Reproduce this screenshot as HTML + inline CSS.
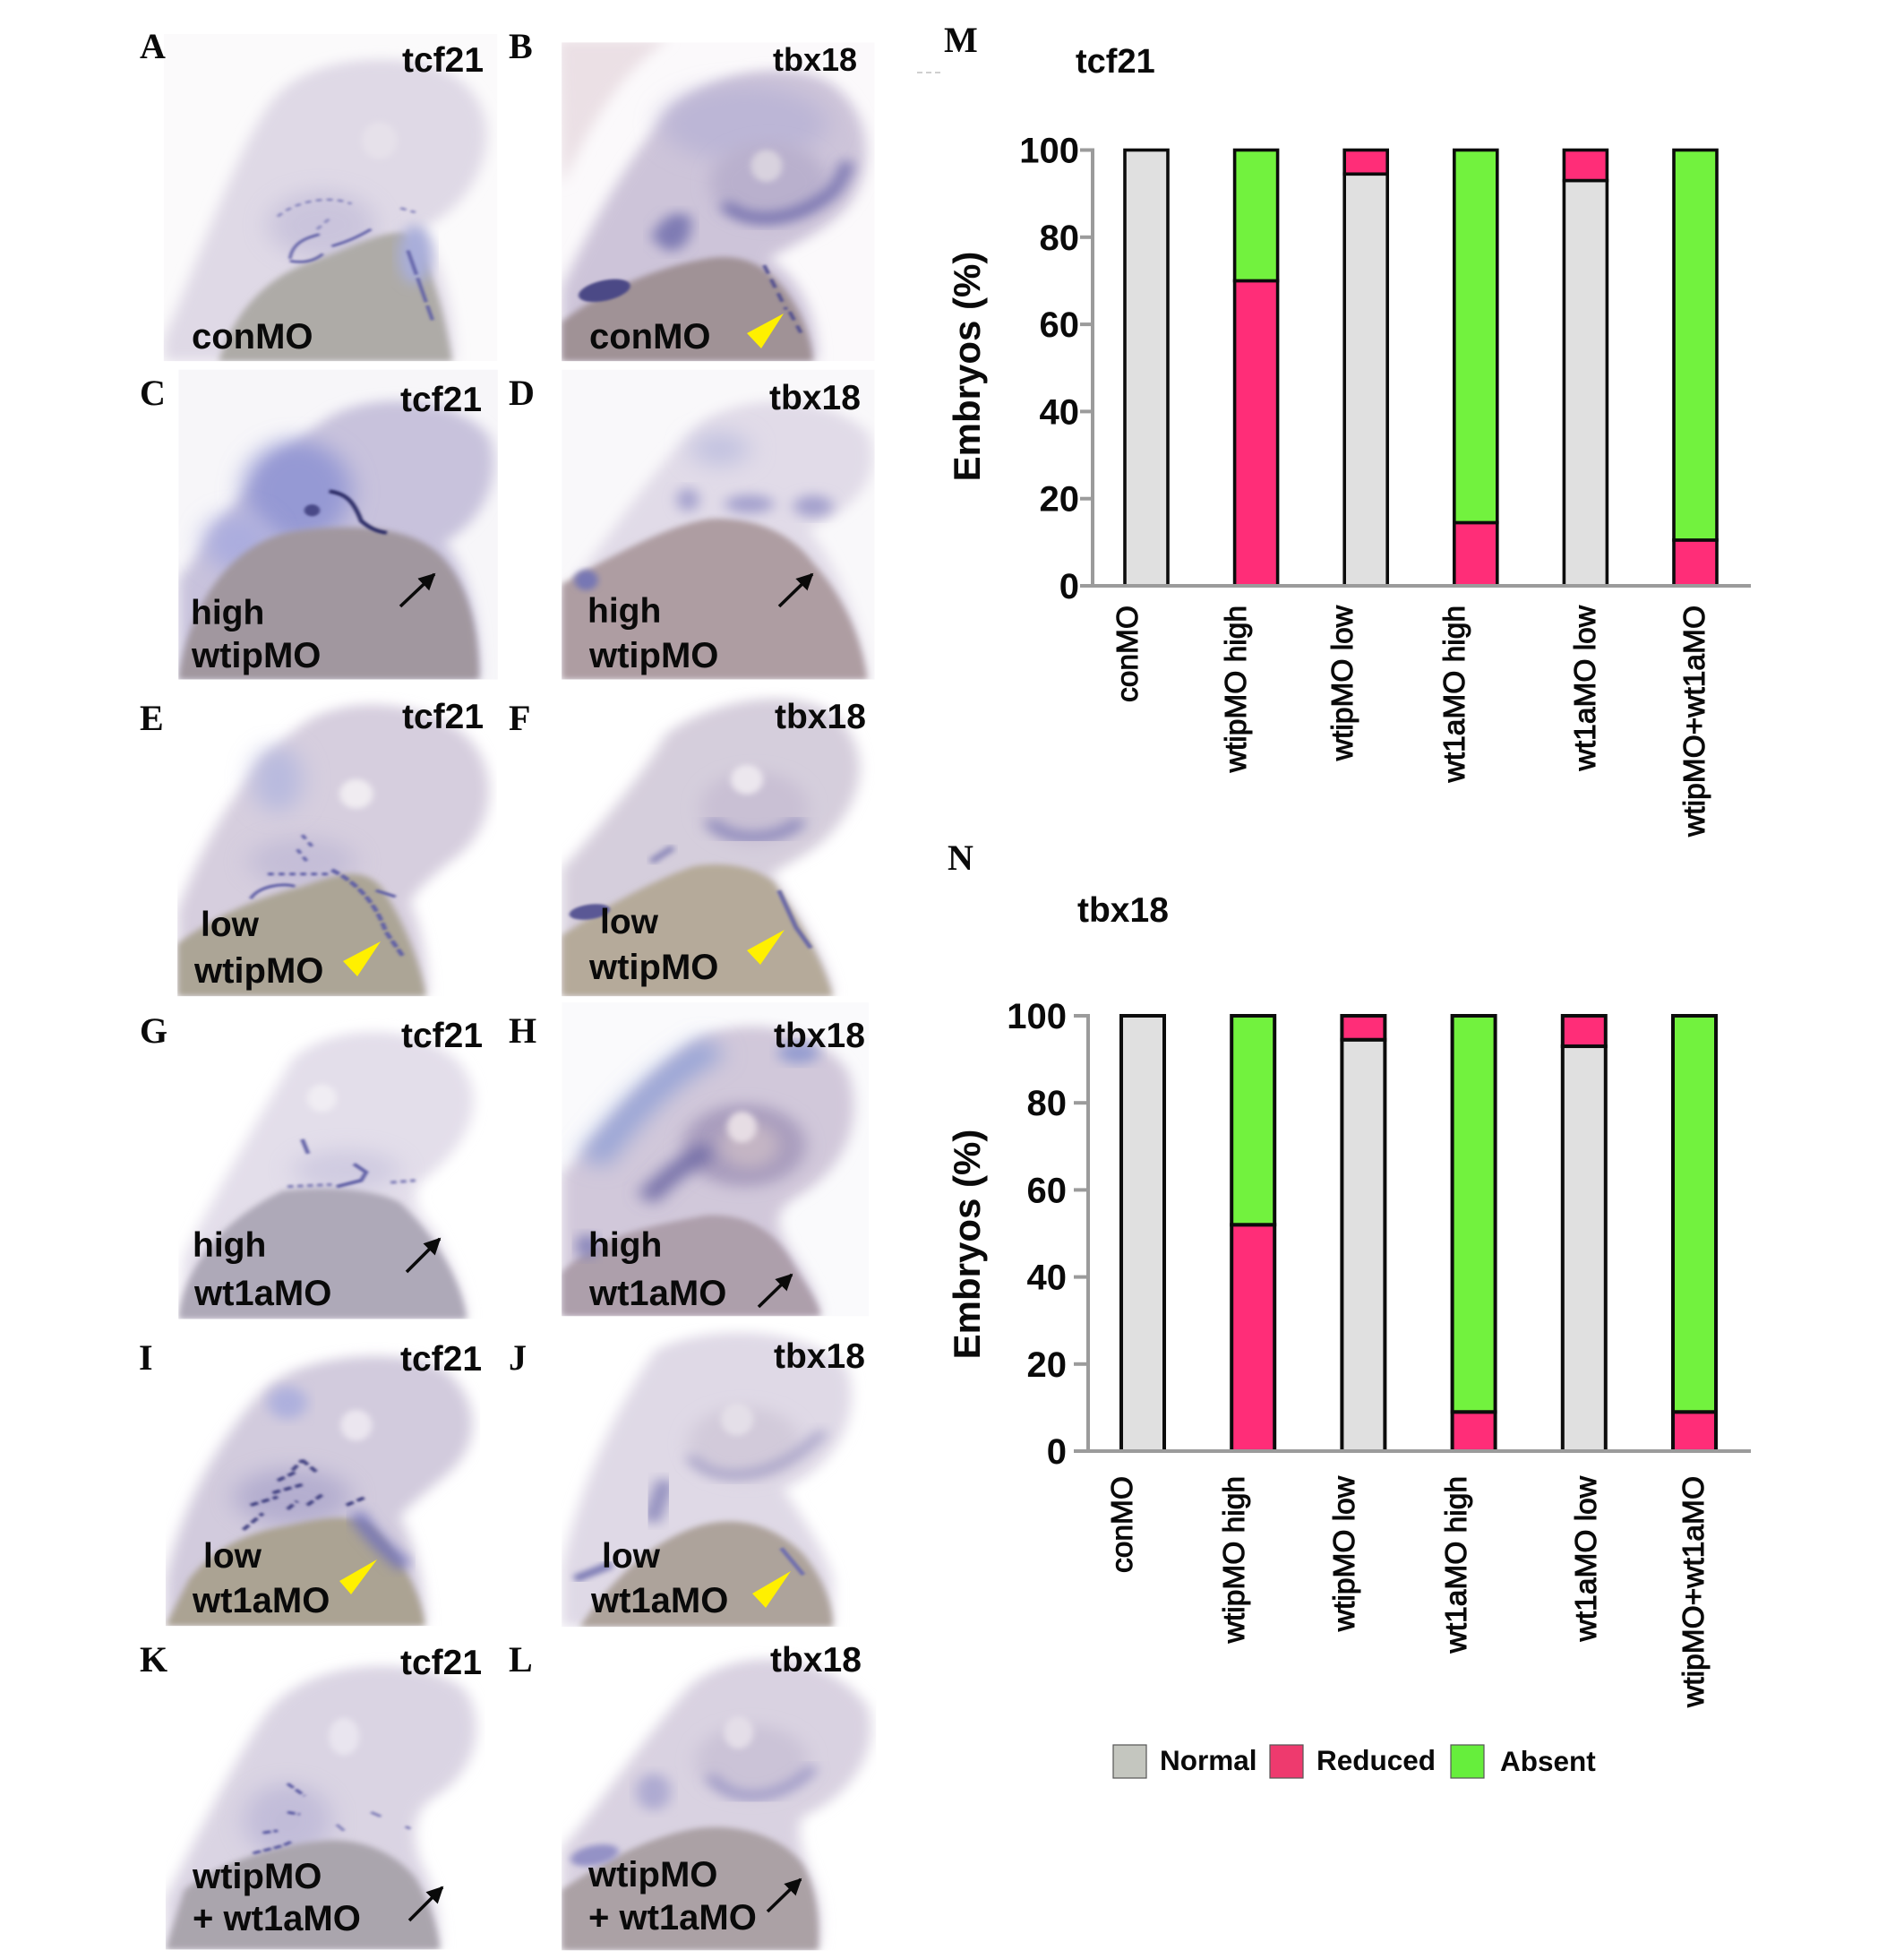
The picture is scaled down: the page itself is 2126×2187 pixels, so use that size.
<!DOCTYPE html>
<html lang="en">
<head>
<meta charset="utf-8">
<title>tcf21 and tbx18 expression in morphant embryos</title>
<style>
html,body{margin:0;padding:0;background:#fff;width:2126px;height:2187px;overflow:hidden}
svg{display:block}
.lab{font:bold 39px "Liberation Sans",sans-serif;fill:#0a0a0a}
.tr{font-size:40px}
.let{font:bold 40px "Liberation Serif",serif;fill:#0a0a0a}
</style>
</head>
<body>
<svg id="fig" xmlns="http://www.w3.org/2000/svg" width="2126" height="2187" viewBox="0 0 2126 2187">
<defs>
<filter id="b4" x="-40%" y="-40%" width="180%" height="180%"><feGaussianBlur stdDeviation="3"/></filter>
<filter id="b7" x="-20%" y="-20%" width="140%" height="140%"><feGaussianBlur stdDeviation="7"/></filter>
<filter id="b14" x="-20%" y="-20%" width="140%" height="140%"><feGaussianBlur stdDeviation="14"/></filter>
<filter id="b18" x="-40%" y="-40%" width="180%" height="180%"><feGaussianBlur stdDeviation="18"/></filter>
<filter id="b25" x="-60%" y="-60%" width="220%" height="220%"><feGaussianBlur stdDeviation="25"/></filter>
<clipPath id="cA"><rect x="78" y="38" width="679" height="774"/></clipPath>
<clipPath id="cB"><rect x="888" y="58" width="637" height="754"/></clipPath>
<clipPath id="cC"><rect x="108" y="832" width="650" height="733"/></clipPath>
<clipPath id="cD"><rect x="888" y="832" width="637" height="733"/></clipPath>
<clipPath id="cE"><rect x="106" y="15" width="650" height="752"/></clipPath>
<clipPath id="cF"><rect x="888" y="15" width="637" height="752"/></clipPath>
<clipPath id="cG"><rect x="108" y="785" width="630" height="767"/></clipPath>
<clipPath id="cH"><rect x="888" y="782" width="625" height="763"/></clipPath>
<clipPath id="cI"><rect x="82" y="20" width="640" height="735"/></clipPath>
<clipPath id="cJ"><rect x="888" y="15" width="620" height="742"/></clipPath>
<clipPath id="cK"><rect x="82" y="790" width="650" height="755"/></clipPath>
<clipPath id="cL"><rect x="888" y="785" width="640" height="762"/></clipPath>
</defs>
<rect width="2126" height="2187" fill="#fff"/>

<!-- Row 1-2 : zoom coordinates -->
<g transform="translate(140,20) scale(.5486,.4719)">
  <g clip-path="url(#cA)">
    <rect x="78" y="38" width="679" height="774" fill="#fbfafb"/>
    <path filter="url(#b14)" fill="#dfd9e6" d="M78 812L78 760C140 600 220 330 290 210C340 120 450 90 560 100C680 110 740 190 735 290C725 400 660 470 600 500C640 560 670 700 670 812Z"/>
    <ellipse cx="400" cy="490" rx="110" ry="80" fill="#b9b4d4" opacity=".55" filter="url(#b25)"/>
    <path filter="url(#b7)" fill="#aeaba7" d="M190 812C220 700 280 620 370 580C450 550 520 500 570 510C620 560 650 700 665 812Z"/>
    <ellipse cx="517" cy="290" rx="36" ry="44" fill="#e6e1ea" filter="url(#b7)"/>
    <ellipse cx="590" cy="560" rx="34" ry="70" fill="#a9aeda" filter="url(#b14)"/>
    <g fill="none" stroke="#5f5ea6" stroke-width="6" filter="url(#b4)">
      <path d="M335 575C370 582 390 570 402 558M335 570C340 530 370 520 395 512M420 540C450 530 470 520 500 500"/>
      <path d="M575 550L625 715" stroke-width="7" stroke-dasharray="60 8"/>
      <path d="M310 470C350 430 420 420 460 440M390 500L420 470M560 450L590 460" stroke-dasharray="12 10" stroke="#8a88bd"/>
    </g>
  </g>
  <g clip-path="url(#cB)">
    <rect x="888" y="58" width="637" height="754" fill="#fbf9fb"/>
    <path filter="url(#b14)" fill="#ebe0e5" d="M880 50H1105C1010 130 950 240 888 400Z"/>
    <path filter="url(#b14)" fill="#cdc4d9" d="M888 640C950 480 1040 300 1110 220C1200 120 1350 100 1430 150C1510 210 1530 330 1480 430C1440 500 1350 540 1310 570C1380 620 1410 720 1408 812L888 812Z"/>
    <ellipse cx="1260" cy="250" rx="170" ry="90" fill="#bcb6d6" filter="url(#b25)"/>
    <ellipse cx="1310" cy="390" rx="120" ry="95" fill="#b9b0cd" filter="url(#b18)"/>
    <path d="M1220 440C1260 490 1360 490 1440 410C1460 380 1465 360 1470 340" fill="none" stroke="#6e6bab" stroke-width="24" filter="url(#b14)"/>
    <ellipse cx="1305" cy="350" rx="32" ry="38" fill="#d8d2de" filter="url(#b7)"/>
    <path filter="url(#b14)" fill="#7f7cb4" d="M1070 520C1090 470 1120 450 1150 470C1160 520 1130 560 1100 550Z"/>
    <path filter="url(#b7)" fill="#a09296" d="M888 812L888 720C960 650 1080 590 1180 570C1250 555 1300 580 1340 640C1380 700 1395 760 1400 812Z"/>
    <ellipse cx="975" cy="645" rx="54" ry="24" transform="rotate(-15 975 645)" fill="#4b4986" filter="url(#b4)"/>
    <path d="M1300 585L1345 690M1352 695L1375 745" stroke="#4d4c90" stroke-width="7" fill="none" stroke-dasharray="22 14" filter="url(#b4)"/>
  </g>
  <g clip-path="url(#cC)">
    <rect x="108" y="832" width="650" height="733" fill="#f7f6f9"/>
    <path filter="url(#b14)" fill="#c8c2dc" d="M108 1330C200 1180 300 1030 420 940C520 880 680 900 740 990C770 1080 730 1190 650 1240C700 1320 720 1430 720 1565L108 1565Z"/>
    <ellipse cx="350" cy="1120" rx="110" ry="120" fill="#9599d4" filter="url(#b25)"/>
    <ellipse cx="230" cy="1240" rx="70" ry="70" fill="#acadde" filter="url(#b25)"/>
    <path filter="url(#b7)" fill="#a1979f" d="M108 1565C130 1380 220 1240 340 1215C450 1195 580 1200 640 1270C700 1340 720 1450 720 1565Z"/>
    <path d="M415 1120C450 1125 465 1145 480 1190C495 1205 510 1215 532 1218" stroke="#2f2f68" stroke-width="9" fill="none" filter="url(#b4)"/>
    <ellipse cx="380" cy="1165" rx="16" ry="14" fill="#4a4a88" filter="url(#b4)"/>
  </g>
  <g clip-path="url(#cD)">
    <rect x="888" y="832" width="637" height="733" fill="#f9f8fa"/>
    <path filter="url(#b14)" fill="#e1dbe8" d="M888 1370C980 1240 1080 1050 1180 950C1280 880 1440 900 1510 980C1540 1060 1510 1150 1390 1210C1450 1300 1500 1440 1510 1565L888 1565Z"/>
    <ellipse cx="1210" cy="1020" rx="60" ry="40" fill="#c2c2e0" filter="url(#b25)"/>
    <path filter="url(#b7)" fill="#ae9da2" d="M888 1565L888 1340C980 1280 1100 1200 1190 1185C1270 1180 1350 1210 1400 1290C1470 1380 1500 1480 1510 1565Z"/>
    <ellipse cx="938" cy="1330" rx="24" ry="24" fill="#7777b4" filter="url(#b7)"/>
    <g filter="url(#b14)" fill="#a4a1cd"><ellipse cx="1145" cy="1140" rx="22" ry="28"/><ellipse cx="1270" cy="1150" rx="50" ry="22"/><ellipse cx="1400" cy="1155" rx="40" ry="26"/></g>
  </g>
</g>

<!-- Row 3-4 -->
<g transform="translate(140,760) scale(.5486,.4591)">
  <g clip-path="url(#cE)">
    <path filter="url(#b14)" fill="#d6cede" d="M106 767L106 560C170 350 270 170 380 90C480 30 620 60 690 130C770 220 750 370 660 440C620 480 590 510 580 540C600 600 615 680 615 767Z"/>
    <ellipse cx="310" cy="240" rx="50" ry="80" fill="#b8bade" filter="url(#b25)"/>
    <ellipse cx="360" cy="440" rx="110" ry="60" fill="#b3aed0" opacity=".5" filter="url(#b25)"/>
    <path filter="url(#b7)" fill="#aca596" d="M106 767L106 640C170 580 260 530 360 500C430 470 480 450 520 500C560 570 600 680 612 767Z"/>
    <ellipse cx="470" cy="275" rx="34" ry="36" fill="#f0ecf1" filter="url(#b7)"/>
    <g fill="none" stroke="#5f5ea6" stroke-width="7" filter="url(#b4)">
      <path d="M255 530C270 500 320 490 345 500" />
      <path d="M360 375L385 410M350 410L370 440M290 470L420 470" stroke-dasharray="12 10"/>
      <path d="M420 460C470 490 510 540 530 610L565 670" stroke-dasharray="18 6" stroke-width="9"/>
      <path d="M510 510L550 525" />
    </g>
  </g>
  <g clip-path="url(#cF)">
    <path filter="url(#b14)" fill="#d5ceDC" d="M888 767L888 460C960 360 1060 220 1100 130C1200 40 1370 10 1450 90C1530 190 1490 310 1420 390C1380 430 1340 450 1315 470C1370 570 1430 680 1440 767Z"/>
    <ellipse cx="1280" cy="310" rx="110" ry="90" fill="#c9c0d4" filter="url(#b18)"/>
    <path d="M1190 340C1220 390 1320 400 1375 340" fill="none" stroke="#8d89bc" stroke-width="26" filter="url(#b14)"/>
    <path d="M1070 440L1115 405" fill="none" stroke="#8582b6" stroke-width="14" filter="url(#b7)"/>
    <path filter="url(#b7)" fill="#b5aa9a" d="M888 767L888 620C960 560 1080 480 1160 450C1220 440 1280 450 1320 490C1370 580 1420 680 1440 767Z"/>
    <ellipse cx="1265" cy="240" rx="33" ry="36" fill="#ece7ee" filter="url(#b7)"/>
    <ellipse cx="945" cy="562" rx="42" ry="18" fill="#5a5895" transform="rotate(-10 945 562)" filter="url(#b4)"/>
    <path d="M1330 510L1365 600L1395 650" stroke="#6866a6" stroke-width="9" fill="none" filter="url(#b4)"/>
  </g>
  <g clip-path="url(#cG)">
    <path filter="url(#b14)" fill="#e3deea" d="M108 1552L120 1400C180 1250 280 1050 340 920C420 830 600 830 680 930C740 1020 700 1130 600 1220C580 1250 590 1290 630 1340C670 1430 690 1490 695 1552Z"/>
    <ellipse cx="450" cy="1190" rx="110" ry="50" fill="#bdb9d8" opacity=".5" filter="url(#b25)"/>
    <path filter="url(#b7)" fill="#aea9b8" d="M108 1552C120 1420 200 1310 320 1240C420 1225 520 1240 560 1270C620 1340 680 1440 695 1552Z"/>
    <ellipse cx="400" cy="1015" rx="30" ry="34" fill="#f0edf3" filter="url(#b7)"/>
    <g fill="none" stroke="#5f5fa5" stroke-width="8" filter="url(#b4)">
      <path d="M360 1115L372 1150M465 1175L490 1195L480 1215L430 1230" />
      <path d="M330 1230L420 1225M540 1220L590 1215" stroke-dasharray="12 8" stroke="#8886bb"/>
    </g>
  </g>
  <g clip-path="url(#cH)">
    <rect x="888" y="782" width="625" height="763" fill="#fafafc"/>
    <path filter="url(#b14)" fill="#d1c8da" d="M888 1545L888 1200C980 1090 1060 950 1180 860C1300 810 1420 860 1470 950C1500 1050 1480 1180 1360 1260C1310 1300 1330 1340 1360 1400C1400 1470 1410 1510 1415 1545Z"/>
    <path d="M950 1170C1020 1060 1090 960 1200 890" fill="none" stroke="#95a3d6" stroke-width="60" filter="url(#b25)"/>
    <ellipse cx="1370" cy="905" rx="42" ry="26" fill="#959dd0" filter="url(#b14)"/>
    <ellipse cx="1260" cy="1130" rx="125" ry="100" fill="#a89cbd" filter="url(#b18)"/>
    <path d="M1060 1260C1100 1210 1140 1170 1190 1140" fill="none" stroke="#716ca6" stroke-width="40" filter="url(#b18)"/>
    <ellipse cx="1270" cy="1130" rx="60" ry="55" fill="#c4b5c4" filter="url(#b18)"/>
    <ellipse cx="1255" cy="1085" rx="30" ry="38" fill="#e6dde4" filter="url(#b7)"/>
    <path filter="url(#b7)" fill="#ad9fab" d="M888 1545L888 1440C960 1350 1050 1330 1180 1300C1260 1295 1320 1330 1360 1420C1390 1480 1410 1510 1415 1545Z"/>
    <ellipse cx="940" cy="1375" rx="22" ry="30" fill="#8885ba" filter="url(#b14)"/>
  </g>
</g>

<!-- Row 5-6 -->
<g transform="translate(140,1470) scale(.5486,.4572)">
  <g clip-path="url(#cI)">
    <path filter="url(#b14)" fill="#d2cbdd" d="M82 755L82 640C110 480 180 310 280 180C350 90 560 70 650 130C720 200 730 310 650 390C600 440 570 470 560 490C590 560 610 660 610 755Z"/>
    <ellipse cx="330" cy="210" rx="40" ry="40" fill="#aeb0dd" filter="url(#b14)"/>
    <ellipse cx="340" cy="440" rx="120" ry="70" fill="#9c97c4" opacity=".55" filter="url(#b25)"/>
    <path filter="url(#b7)" fill="#aba393" d="M82 755L130 640C170 580 230 530 330 510C400 490 460 480 500 510C550 570 600 660 610 755Z"/>
    <ellipse cx="470" cy="265" rx="32" ry="38" fill="#ebe6ef" filter="url(#b7)"/>
    <path d="M470 480C490 520 520 560 570 610" fill="none" stroke="#7575ba" stroke-width="30" filter="url(#b14)"/>
    <g fill="none" stroke="#404080" stroke-width="8" filter="url(#b4)">
      <path d="M240 520L280 480M255 460L310 440M300 430L360 410M330 470L350 450M340 375L360 350M360 350L390 380M370 460L400 435M450 460L490 440M310 400L345 380" stroke-dasharray="16 8"/>
    </g>
  </g>
  <g clip-path="url(#cJ)">
    <path filter="url(#b14)" fill="#dfd9e6" d="M888 757L888 620C920 420 1000 220 1080 80C1200 10 1400 30 1470 130C1500 250 1440 370 1340 420C1370 480 1420 560 1440 640L1440 757Z"/>
    <ellipse cx="1260" cy="310" rx="115" ry="90" fill="#d2cada" filter="url(#b18)"/>
    <path d="M1150 340C1190 410 1320 410 1420 280" fill="none" stroke="#a29dc5" stroke-width="20" filter="url(#b14)"/>
    <ellipse cx="1245" cy="250" rx="33" ry="40" fill="#e4dfe8" filter="url(#b7)"/>
    <path d="M1070 500L1100 400" fill="none" stroke="#8d8abc" stroke-width="34" filter="url(#b14)"/>
    <path filter="url(#b7)" fill="#ada39b" d="M925 757C980 660 1060 550 1170 510C1260 480 1330 520 1380 580C1420 640 1440 700 1440 757Z"/>
    <path d="M915 640L990 605" fill="none" stroke="#7a79b4" stroke-width="18" filter="url(#b7)"/>
    <path d="M1335 565L1380 630" fill="none" stroke="#6f6eae" stroke-width="9" filter="url(#b4)"/>
  </g>
  <g clip-path="url(#cK)">
    <path filter="url(#b14)" fill="#dad4e3" d="M82 1545L82 1420C130 1310 200 1130 280 980C360 830 600 820 690 910C740 1000 710 1120 620 1180C590 1210 580 1260 600 1330C630 1400 640 1470 640 1545Z"/>
    <ellipse cx="330" cy="1230" rx="90" ry="90" fill="#aaa6cf" opacity=".5" filter="url(#b25)"/>
    <path filter="url(#b7)" fill="#aaa5ad" d="M82 1545L120 1400C180 1340 300 1290 400 1280C480 1270 550 1310 590 1370C620 1430 635 1490 640 1545Z"/>
    <ellipse cx="445" cy="1025" rx="31" ry="46" fill="#e9e5ef" filter="url(#b7)"/>
    <g fill="none" stroke="#5a5aa2" stroke-width="7" filter="url(#b4)">
      <path d="M260 1310C290 1300 320 1295 340 1280M280 1260L310 1255M330 1140L365 1170M330 1210L355 1215" stroke-dasharray="16 6"/>
      <path d="M500 1210L520 1220M430 1240L445 1255M570 1245L580 1250" stroke="#8886bb"/>
    </g>
  </g>
  <g clip-path="url(#cL)">
    <path filter="url(#b14)" fill="#d9d2e1" d="M888 1547L888 1300C960 1200 1060 1020 1150 900C1260 790 1440 830 1510 950C1540 1050 1480 1170 1380 1220C1360 1260 1380 1310 1400 1380C1420 1450 1415 1500 1410 1547Z"/>
    <ellipse cx="1275" cy="1085" rx="115" ry="88" fill="#cbc3d7" filter="url(#b18)"/>
    <path d="M1190 1120C1230 1190 1330 1190 1400 1100" fill="none" stroke="#9591c3" stroke-width="20" filter="url(#b14)"/>
    <ellipse cx="1075" cy="1160" rx="35" ry="45" fill="#aeaad1" filter="url(#b14)"/>
    <ellipse cx="1248" cy="1015" rx="30" ry="40" fill="#e4dee8" filter="url(#b7)"/>
    <path filter="url(#b7)" fill="#aba1a5" d="M888 1547L888 1400C960 1340 1060 1270 1160 1250C1250 1235 1340 1270 1380 1340C1410 1410 1412 1480 1410 1547Z"/>
    <ellipse cx="955" cy="1315" rx="50" ry="24" fill="#9492c6" transform="rotate(-15 955 1315)" filter="url(#b7)"/>
  </g>
</g>

<!-- Yellow arrowheads (real px) -->
<g fill="#fff000">
  <polygon points="875,350 834,372 850,389"/>
  <polygon points="425,1051 383,1073 399,1090"/>
  <polygon points="876,1038 834,1061 849,1077"/>
  <polygon points="421,1741 379,1765 392,1780"/>
  <polygon points="883,1754 840,1779 855,1795"/>
</g>

<!-- Black arrows -->
<defs>
  <marker id="ah" viewBox="0 0 10 10" refX="9" refY="5" markerWidth="5.2" markerHeight="5.2" orient="auto"><path d="M0 0L10 5L0 10Z" fill="#0a0a0a"/></marker>
</defs>
<g stroke="#0a0a0a" stroke-width="3.6" marker-end="url(#ah)">
  <line x1="447" y1="677" x2="485" y2="641" marker-end="url(#ah)"/>
  <line x1="870" y1="677" x2="907" y2="641" marker-end="url(#ah)"/>
  <line x1="454" y1="1420" x2="491" y2="1383" marker-end="url(#ah)"/>
  <line x1="847" y1="1459" x2="884" y2="1423" marker-end="url(#ah)"/>
  <line x1="457" y1="2144" x2="494" y2="2107" marker-end="url(#ah)"/>
  <line x1="857" y1="2134" x2="894" y2="2098" marker-end="url(#ah)"/>
</g>

<!-- Panel letters -->
<g class="let">
  <text class="let" x="156" y="65">A</text>
  <text class="let" x="568" y="65">B</text>
  <text class="let" x="156" y="452">C</text>
  <text class="let" x="568" y="452">D</text>
  <text class="let" x="156" y="815">E</text>
  <text class="let" x="568" y="815">F</text>
  <text class="let" x="156" y="1164">G</text>
  <text class="let" x="568" y="1164">H</text>
  <text class="let" x="155" y="1529">I</text>
  <text class="let" x="568" y="1529">J</text>
  <text class="let" x="156" y="1866">K</text>
  <text class="let" x="568" y="1866">L</text>
  <text class="let" x="1054" y="58">M</text>
  <text class="let" x="1058" y="971">N</text>
</g>

<!-- Panel labels -->
<g>
  <text class="lab" x="449" y="80">tcf21</text>
  <text class="lab tr" x="214" y="389">conMO</text>
  <text class="lab" style="font-size:36px" x="863" y="79">tbx18</text>
  <text class="lab tr" x="658" y="389">conMO</text>
  <text class="lab" x="447" y="459">tcf21</text>
  <text class="lab" x="213" y="697">high</text>
  <text class="lab tr" x="214" y="745">wtipMO</text>
  <text class="lab" x="859" y="457">tbx18</text>
  <text class="lab" x="656" y="695">high</text>
  <text class="lab tr" x="658" y="745">wtipMO</text>
  <text class="lab" x="449" y="813">tcf21</text>
  <text class="lab" x="224" y="1045">low</text>
  <text class="lab tr" x="217" y="1097">wtipMO</text>
  <text class="lab" x="865" y="813">tbx18</text>
  <text class="lab" x="670" y="1042">low</text>
  <text class="lab tr" x="658" y="1093">wtipMO</text>
  <text class="lab" x="448" y="1169">tcf21</text>
  <text class="lab" x="215" y="1403">high</text>
  <text class="lab tr" x="217" y="1457">wt1aMO</text>
  <text class="lab" x="864" y="1169">tbx18</text>
  <text class="lab" x="657" y="1403">high</text>
  <text class="lab tr" x="658" y="1457">wt1aMO</text>
  <text class="lab" x="447" y="1530">tcf21</text>
  <text class="lab" x="227" y="1750">low</text>
  <text class="lab tr" x="215" y="1800">wt1aMO</text>
  <text class="lab" x="864" y="1527">tbx18</text>
  <text class="lab" x="672" y="1750">low</text>
  <text class="lab tr" x="660" y="1800">wt1aMO</text>
  <text class="lab" x="447" y="1869">tcf21</text>
  <text class="lab tr" x="215" y="2108">wtipMO</text>
  <text class="lab tr" x="215" y="2155">+ wt1aMO</text>
  <text class="lab" x="860" y="1866">tbx18</text>
  <text class="lab tr" x="657" y="2106">wtipMO</text>
  <text class="lab tr" x="657" y="2154">+ wt1aMO</text>
</g>

<line x1="1024" y1="81" x2="1052" y2="81" stroke="#cfcfcf" stroke-width="2" stroke-dasharray="6 4"/>

<text class="lab" x="1201" y="81" style="font-size:38px">tcf21</text>
<text class="lab" x="1203" y="1029" style="font-size:39px">tbx18</text>

<g id="chart-m"></g>
<g id="chart-n"></g>

<g>
  <rect x="1243" y="1948" width="37" height="37" fill="#c4c6bf" stroke="#555" stroke-width="1.2"/>
  <text class="lab" x="1295" y="1976" style="font-size:31.5px">Normal</text>
  <rect x="1418" y="1948" width="37" height="37" fill="#ee3a6e" stroke="#555" stroke-width="1.2"/>
  <text class="lab" x="1470" y="1976" style="font-size:31.5px">Reduced</text>
  <rect x="1620" y="1948" width="37" height="37" fill="#66ee3c" stroke="#555" stroke-width="1.2"/>
  <text class="lab" x="1675" y="1977" style="font-size:31.5px">Absent</text>
</g>
</svg>

<script>
const categories = ["conMO", "wtipMO high", "wtipMO low", "wt1aMO high", "wt1aMO low", "wtipMO+wt1aMO"];
const yTickLabels = [0, 20, 40, 60, 80, 100];
const seriesNames = ["Normal", "Reduced", "Absent"];
const tcf21Normal = [100, 0, 94.5, 0, 93, 0];
const tcf21Reduced = [0, 70, 5.5, 14.5, 7, 10.5];
const tcf21Absent = [0, 30, 0, 85.5, 0, 89.5];
const tbx18Normal = [100, 0, 94.5, 0, 93, 0];
const tbx18Reduced = [0, 52, 5.5, 9, 7, 9];
const tbx18Absent = [0, 48, 0, 91, 0, 91];
const seriesColors = ["#e0e0e0", "#ff2d78", "#72f23e"];

const SVGNS = "http://www.w3.org/2000/svg";
function mk(parent, tag, attrs, text) {
  const e = document.createElementNS(SVGNS, tag);
  for (const k in attrs) e.setAttribute(k, attrs[k]);
  if (text !== undefined) e.textContent = text;
  parent.appendChild(e);
  return e;
}
function drawChart(id, series, L) {
  const g = document.getElementById(id);
  const y = v => L.y0 + (L.y100 - L.y0) * v / 100;
  const x = i => L.x0 + L.step * i;

  series.forEach((vals, s) => {
    categories.forEach((cat, i) => {
      let base = 0;
      for (let k = 0; k < s; k++) base += series[k][i];
      const v = vals[i];
      if (v <= 0) return;
      const r = mk(g, "rect", {
        x: x(i) - L.barW / 2, y: y(base + v), width: L.barW, height: y(base) - y(base + v),
        fill: seriesColors[s], stroke: "#0c0c0c", "stroke-width": L.barStroke
      });
      
      
    });
  });

  const yAxis = mk(g, "line", {x1: L.axisX, x2: L.axisX, y1: y(100) - 2, y2: y(0) + 2, stroke: "#9b9b9b", "stroke-width": 4});
  
  
  const xAxis = mk(g, "line", {x1: L.axisX - 14, x2: L.axisEnd, y1: y(0), y2: y(0), stroke: "#9b9b9b", "stroke-width": 4});
  
  

  yTickLabels.forEach(t => {
    const tick = mk(g, "line", {x1: L.axisX - L.tickLen, x2: L.axisX, y1: y(t), y2: y(t), stroke: "#9b9b9b", "stroke-width": 4});
    
    
    const lb = mk(g, "text", {
      x: L.tickTextX, y: y(t) + 14, "text-anchor": "end",
      style: 'font:bold 40px "Liberation Sans",sans-serif', fill: "#0a0a0a"
    }, t);
    
    
  });

  categories.forEach((cat, i) => {
    const lb = mk(g, "text", {
      transform: "translate(" + L.labelX[i] + "," + L.labelTop + ") rotate(-90)",
      "text-anchor": "end", fill: "#0a0a0a",
      style: 'font:33.5px "Liberation Sans",sans-serif;stroke:#0a0a0a;stroke-width:1px'
    }, cat);
    
    
  });

  const yt = mk(g, "text", {
    transform: "translate(1094," + L.titleY + ") rotate(-90)", "text-anchor": "middle",
    style: 'font:bold 42px "Liberation Sans",sans-serif', fill: "#0a0a0a"
  }, "Embryos (%)");
  
  
}

drawChart("chart-m", [tcf21Normal, tcf21Reduced, tcf21Absent], {
  y0: 654, y100: 167.5, x0: 1280, step: 122.6, barW: 48, barStroke: 3.6,
  axisX: 1220, axisEnd: 1955, tickLen: 14, tickTextX: 1205,
  labelX: [1270, 1391, 1510, 1635, 1781, 1903], labelTop: 676, titleY: 409
});
drawChart("chart-n", [tbx18Normal, tbx18Reduced, tbx18Absent], {
  y0: 1620, y100: 1134, x0: 1276, step: 123.2, barW: 48, barStroke: 4,
  axisX: 1215, axisEnd: 1955, tickLen: 16, tickTextX: 1191,
  labelX: [1264, 1389, 1512, 1637, 1782, 1902], labelTop: 1648, titleY: 1389
});
</script>
</body>
</html>
